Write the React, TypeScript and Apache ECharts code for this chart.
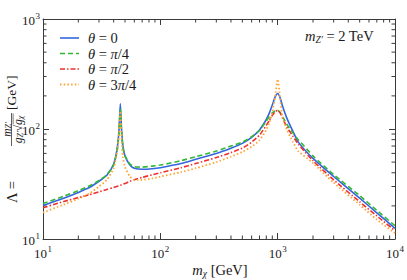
import React, { useEffect, useRef } from 'react';
import * as echarts from 'echarts';

// Dark-matter mass m_chi [GeV] sample points
const massPoints = [10, 15, 20, 25, 30, 35, 40, 43, 44.5, 45.6, 46.7, 48, 50, 55, 60, 70, 85, 100, 150, 200, 300, 400, 500, 600, 700, 800, 850, 900, 950, 1000, 1050, 1100, 1200, 1350, 1500, 2000, 3000, 5000, 7000, 10000];

// Lambda [GeV] for each mixing angle
const lambdaTheta0 = [20.2, 23.5, 26.5, 29.5, 33.5, 38, 48, 68, 100, 170, 100, 70, 57, 47, 44, 43, 43.5, 44.5, 48.5, 53, 60, 67, 74, 84, 98, 122, 140, 165, 195, 210, 192, 162, 125, 95, 76, 54, 37, 23.5, 17.3, 12.5];
const lambdaThetaPi4 = [21, 24.5, 27.5, 30.5, 34, 38.5, 47, 65, 95, 150, 95, 68, 57, 48, 45.5, 45, 46, 47, 51.5, 56, 63, 70, 76, 85, 97, 118, 130, 140, 146, 148, 141, 130, 110, 92, 80, 57, 38.5, 24.8, 18.2, 13.2];
const lambdaThetaPi2 = [19.2, 21.9, 23.8, 25.3, 26.8, 28.2, 29.4, 30.1, 30.5, 30.8, 31.1, 31.5, 32, 33.4, 34.6, 36.3, 38.3, 40, 44.5, 48.5, 55, 61, 67, 76, 88, 108, 120, 133, 143, 148, 140, 126, 104, 86, 73, 51.5, 34.5, 21.8, 16.2, 11.9];
const lambdaTheta3Pi4 = [17.4, 20.5, 23.2, 26, 30, 34.5, 44, 64, 95, 145, 85, 55, 45, 37, 34.5, 34.5, 35.5, 37, 40.5, 44, 50, 56, 62, 69, 79, 98, 114, 142, 195, 283, 190, 128, 98, 76, 63, 49, 32.5, 20.5, 15, 11.3];

const seriesNames = ['θ = 0', 'θ = π/4', 'θ = π/2', 'θ = 3π/4'];
const legendRich = ['{i|θ}{n| = 0}', '{i|θ}{n| = }{i|π}{n|/4}', '{i|θ}{n| = }{i|π}{n|/2}', '{i|θ}{n| = 3}{i|π}{n|/4}'];

const xRange = [10, 10000];
const yRange = [10, 1000];
const xMinorTicks = [20, 30, 40, 50, 60, 70, 80, 90, 200, 300, 400, 500, 600, 700, 800, 900, 2000, 3000, 4000, 5000, 6000, 7000, 8000, 9000];
const yMinorTicks = [20, 30, 40, 50, 60, 70, 80, 90, 200, 300, 400, 500, 600, 700, 800, 900];

const SERIF = "'Liberation Serif', 'DejaVu Serif', serif";
const AX = '#3a3a3a';
const TXT = '#1a1a1a';

const labelRich = {
  b: { fontSize: 13, fontFamily: SERIF, color: TXT, lineHeight: 16, verticalAlign: 'bottom' },
  s: { fontSize: 9, fontFamily: SERIF, color: TXT, lineHeight: 16, verticalAlign: 'top', padding: [0, 0, 0, 0.5] },
};
const powLabel = (v: number) => `{b|10}{s|${Math.round(Math.log10(v))}}`;

const colors = ['#3366e0', '#33b833', '#ee3030', '#ffa434'];
const widths = [1.6, 1.6, 1.6, 1.8];
const dashes: any[] = ['solid', [5, 3], [5, 2, 1.5, 2], [1.5, 2.2]];

const tok = (size: number, italic: boolean, extra: any = {}) => ({
  fontFamily: SERIF,
  fontSize: size,
  fontStyle: italic ? 'italic' : 'normal',
  fill: TXT,
  ...extra,
});

export default function App() {
  const ref = useRef<HTMLDivElement>(null);
  useEffect(() => {
    if (!ref.current) return;
    const chart = echarts.init(ref.current, undefined, { renderer: 'svg' });
    const dataSets = [lambdaTheta0, lambdaThetaPi4, lambdaThetaPi2, lambdaTheta3Pi4];
    const lineSeries = dataSets.map((arr, k) => ({
      name: seriesNames[k],
      type: 'line',
      xAxisIndex: 0,
      yAxisIndex: 0,
      data: massPoints.map((m, i) => [m, arr[i]]),
      showSymbol: false,
      symbol: 'none',
      smooth: 0.2,
      color: colors[k],
      lineStyle: { color: colors[k], width: widths[k], type: dashes[k] },
      z: 3 + k,
    }));
    const tickStyle = { stroke: AX, lineWidth: 1 };
    const minorX = {
      type: 'custom',
      name: 'minorX',
      xAxisIndex: 0,
      yAxisIndex: 0,
      silent: true,
      clip: false,
      encode: { x: 0, y: 1 },
      data: xMinorTicks.map((v) => [v, yRange[0]]),
      renderItem: (params: any, api: any) => {
        const v = api.value(0);
        const b = api.coord([v, yRange[0]]);
        const t = api.coord([v, yRange[1]]);
        return {
          type: 'group',
          children: [
            { type: 'line', shape: { x1: b[0], y1: b[1], x2: b[0], y2: b[1] - 3.5 }, style: tickStyle },
            { type: 'line', shape: { x1: t[0], y1: t[1], x2: t[0], y2: t[1] + 3.5 }, style: tickStyle },
          ],
        };
      },
    };
    const minorY = {
      type: 'custom',
      name: 'minorY',
      xAxisIndex: 0,
      yAxisIndex: 0,
      silent: true,
      clip: false,
      encode: { x: 0, y: 1 },
      data: yMinorTicks.map((v) => [xRange[0], v]),
      renderItem: (params: any, api: any) => {
        const v = api.value(1);
        const l = api.coord([xRange[0], v]);
        const r = api.coord([xRange[1], v]);
        return {
          type: 'group',
          children: [
            { type: 'line', shape: { x1: l[0], y1: l[1], x2: l[0] + 3.5, y2: l[1] }, style: tickStyle },
            { type: 'line', shape: { x1: r[0], y1: r[1], x2: r[0] - 3.5, y2: r[1] }, style: tickStyle },
          ],
        };
      },
    };
    const baseAxis = {
      type: 'log',
      logBase: 10,
      axisLine: { show: true, lineStyle: { color: AX, width: 1 } },
      axisTick: { show: true, inside: true, length: 6, lineStyle: { color: AX, width: 1 } },
      splitLine: { show: false },
      minorTick: { show: false },
    };
    const legendRows = [38, 53.5, 69, 84.5];
    const legendGraphics: any[] = [];
    seriesNames.forEach((_, k) => {
      legendGraphics.push({
        type: 'line',
        shape: { x1: 60, y1: legendRows[k], x2: 79, y2: legendRows[k] },
        style: {
          stroke: colors[k],
          lineWidth: widths[k],
          lineDash: dashes[k] === 'solid' ? null : dashes[k],
        },
      });
      legendGraphics.push({
        type: 'text',
        x: 88,
        y: legendRows[k],
        style: {
          text: legendRich[k],
          ...tok(14.5, false),
          verticalAlign: 'middle',
          rich: {
            i: tok(14.5, true, { lineHeight: 16 }),
            n: tok(14.5, false, { lineHeight: 16 }),
          },
        },
      });
    });
    const subRich = (big: number, small: number, lh: number, drop: number) => ({
      i: tok(big, true, { lineHeight: lh, verticalAlign: 'middle' }),
      s: tok(small, true, { lineHeight: lh, verticalAlign: 'bottom', padding: [drop, 0, 0, 0] }),
      n: tok(big, false, { lineHeight: lh, verticalAlign: 'middle' }),
    });
    const option: any = {
      animation: false,
      backgroundColor: '#ffffff',
      grid: { left: 43, top: 19, width: 355, height: 220, show: false },
      xAxis: [
        {
          ...baseAxis, position: 'bottom', min: xRange[0], max: xRange[1],
          axisLabel: { show: true, margin: 5, formatter: powLabel, rich: labelRich },
        },
        {
          ...baseAxis, position: 'top', min: xRange[0], max: xRange[1],
          axisLabel: { show: false },
        },
      ],
      yAxis: [
        {
          ...baseAxis, position: 'left', min: yRange[0], max: yRange[1],
          axisLabel: { show: true, margin: 3, formatter: powLabel, rich: labelRich },
        },
        {
          ...baseAxis, position: 'right', min: yRange[0], max: yRange[1],
          axisLabel: { show: false },
        },
      ],
      graphic: [
        ...legendGraphics,
        {
          type: 'text',
          x: 305,
          y: 36,
          style: {
            text: '{i|m}{s|Z′}{n| = 2 TeV}',
            ...tok(14.5, false),
            verticalAlign: 'middle',
            rich: subRich(14.5, 9.5, 18, 4),
          },
        },
        {
          type: 'text',
          x: 220,
          y: 270,
          style: {
            text: '{i|m}{s|χ}{n| [GeV]}',
            ...tok(14.5, false),
            align: 'center',
            verticalAlign: 'middle',
            rich: subRich(14.5, 9.5, 18, 4),
          },
        },
        {
          type: 'group',
          x: 11.5,
          y: 140,
          rotation: Math.PI / 2,
          children: [
            {
              type: 'text', x: -63, y: 0,
              style: { text: 'Λ =', ...tok(14.5, false), align: 'left', verticalAlign: 'middle' },
            },
            {
              type: 'line',
              shape: { x1: -6, y1: 0, x2: 27, y2: 0 },
              style: { stroke: TXT, lineWidth: 0.7 },
            },
            {
              type: 'text', x: 10.5, y: -5,
              style: {
                text: '{i|m}{s|Z′}',
                ...tok(11.5, true),
                align: 'center', verticalAlign: 'middle',
                rich: subRich(11.5, 8, 12, 3),
              },
            },
            {
              type: 'text', x: 10.5, y: 6.5,
              style: {
                text: '{i|g}{s|Z′}{n|√}{i|g}{s|χ}',
                ...tok(11.5, true),
                align: 'center', verticalAlign: 'middle',
                rich: subRich(11.5, 8, 12, 3),
              },
            },
            {
              type: 'line',
              shape: { x1: 15.5, y1: 1.6, x2: 26.5, y2: 1.6 },
              style: { stroke: TXT, lineWidth: 0.6 },
            },
            {
              type: 'text', x: 30, y: 0,
              style: { text: '[GeV]', ...tok(13.5, false), align: 'left', verticalAlign: 'middle' },
            },
          ],
        },
      ],
      series: [...lineSeries, minorX, minorY],
    };
    chart.setOption(option);
    return () => chart.dispose();
  }, []);
  return <div ref={ref} style={{ width: 407, height: 280, position: 'absolute', left: 0, top: 0 }} />;
}
